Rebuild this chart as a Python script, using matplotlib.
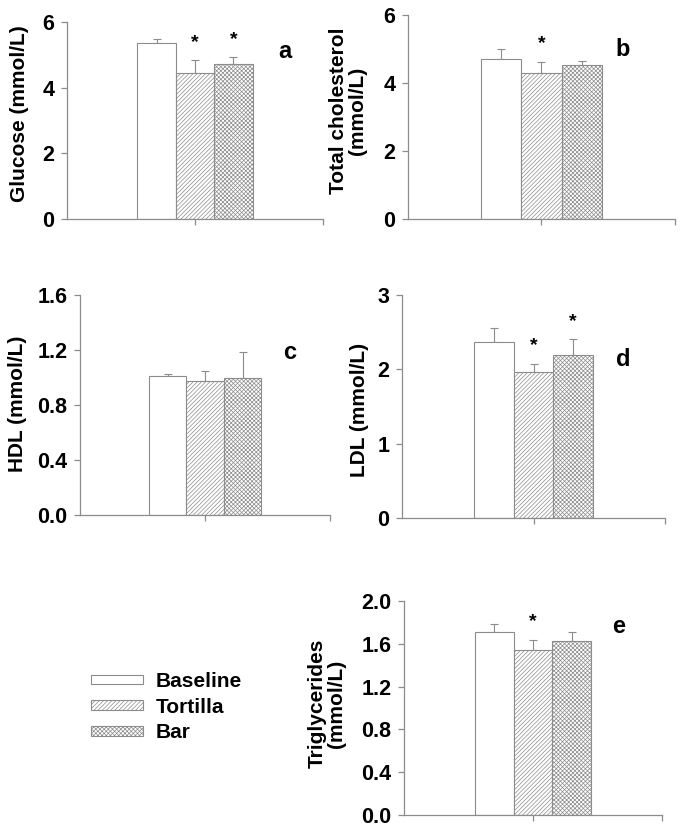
import numpy as np
import matplotlib
matplotlib.use("Agg")
import matplotlib.pyplot as plt

plt.rcParams['font.family'] = ['Liberation Sans', 'DejaVu Sans']
plt.rcParams['font.weight'] = 'bold'
plt.rcParams['hatch.linewidth'] = 0.5

# data
groups = ["Baseline", "Tortilla", "Bar"]
glucose = [5.37, 4.44, 4.71]
glucose_err = [0.12, 0.39, 0.21]
chol = [4.70, 4.29, 4.52]
chol_err = [0.29, 0.34, 0.14]
hdl = [1.013, 0.975, 0.994]
hdl_err = [0.010, 0.072, 0.194]
ldl = [2.364, 1.961, 2.194]
ldl_err = [0.190, 0.112, 0.211]
tg = [1.711, 1.546, 1.627]
tg_err = [0.078, 0.094, 0.087]

# which groups get an asterisk
glucose_sig = [False, True, True]
chol_sig = [False, True, False]
hdl_sig = [False, False, False]
ldl_sig = [False, True, True]
tg_sig = [False, True, False]

gray = "#8c8c8c"
hatches = ["", "////////", "xxxxxxxx"]
xpos = [0.35, 0.5, 0.65]

fig = plt.figure(figsize=(6.85, 8.31), dpi=100)

panels = [
    # rect, values, errors, sig, yticks, ticklabels, ylabel, label coords, letter, letter pos
    ([0.0978, 0.7365, 0.3737, 0.2371], glucose, glucose_err, glucose_sig,
     [0, 2, 4, 6], ["0", "2", "4", "6"], "Glucose (mmol/L)", (-0.185, 0.533), "a", (0.85, 0.85)),
    ([0.5956, 0.7365, 0.3898, 0.2455], chol, chol_err, chol_sig,
     [0, 2, 4, 6], ["0", "2", "4", "6"], "Total cholesterol\n(mmol/L)", (-0.225, 0.53), "b", (0.805, 0.83)),
    ([0.1168, 0.3803, 0.3650, 0.2647], hdl, hdl_err, hdl_sig,
     [0, 0.4, 0.8, 1.2, 1.6], ["0.0", "0.4", "0.8", "1.2", "1.6"], "HDL (mmol/L)", (-0.25, 0.505), "c", (0.84, 0.74)),
    ([0.5869, 0.3767, 0.3839, 0.2684], ldl, ldl_err, ldl_sig,
     [0, 1, 2, 3], ["0", "1", "2", "3"], "LDL (mmol/L)", (-0.16, 0.485), "d", (0.84, 0.71)),
    ([0.5898, 0.01925, 0.3766, 0.2575], tg, tg_err, tg_sig,
     [0, 0.4, 0.8, 1.2, 1.6, 2.0], ["0.0", "0.4", "0.8", "1.2", "1.6", "2.0"], "Triglycerides\n(mmol/L)", (-0.30, 0.52), "e", (0.83, 0.88)),
]

handles = None
for rect, vals, errs, sig, yt, ytl, ylab, lab_xy, letter, let_xy in panels:
    ax = fig.add_axes(rect)
    bars = ax.bar(xpos, vals, width=0.15, color="white", edgecolor=gray,
                  linewidth=0.8, zorder=2)
    for b, h in zip(bars, hatches):
        b.set_hatch(h)
    if handles is None:
        handles = bars
    ax.errorbar(xpos, vals, yerr=[np.zeros(3), errs], fmt="none",
                ecolor=gray, elinewidth=0.8, capsize=3, capthick=0.8, zorder=1)
    for x, v, e, s in zip(xpos, vals, errs, sig):
        if s:
            ax.annotate("*", xy=(x, v + e), xytext=(0, 13), textcoords="offset points",
                        ha="center", va="center", fontsize=14, fontweight="bold")
    ax.set_xlim(0, 1)
    ax.set_ylim(yt[0], yt[-1])
    ax.set_yticks(yt)
    ax.set_yticklabels(ytl)
    ax.set_xticks([0.5, 1.0])
    ax.set_xticklabels([])
    for sp in ["top", "right"]:
        ax.spines[sp].set_visible(False)
    for sp in ["left", "bottom"]:
        ax.spines[sp].set_color(gray)
        ax.spines[sp].set_linewidth(0.9)
    ax.tick_params(axis="both", direction="out", length=4, color=gray, width=0.9,
                   labelsize=15.5, pad=5)
    ax.set_ylabel(ylab, fontsize=15, fontweight="bold", va="center", linespacing=1.0)
    ax.yaxis.set_label_coords(*lab_xy)
    ax.text(let_xy[0], let_xy[1], letter, transform=ax.transAxes, fontsize=17,
            fontweight="bold", ha="center", va="center")

fig.legend(handles, groups, loc="center left", bbox_to_anchor=(0.105, 0.149),
           frameon=False, fontsize=15, handlelength=2.5, handleheight=0.32,
           labelspacing=0.32, handletextpad=0.6)

fig.savefig("out.png", dpi=100)
